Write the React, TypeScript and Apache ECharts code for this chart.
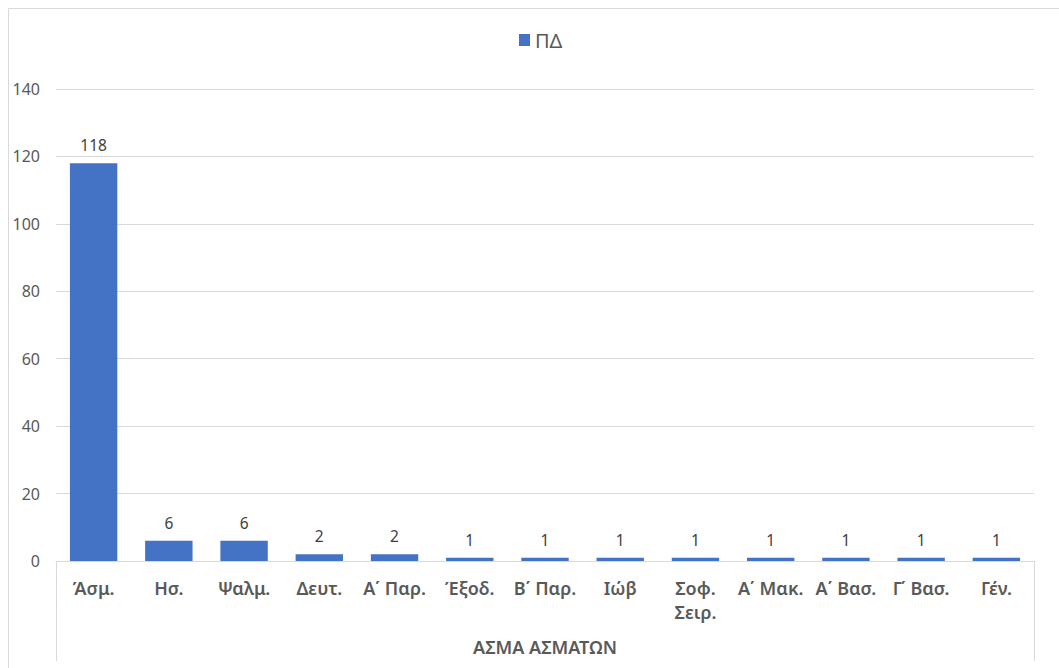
import React, { useEffect, useRef } from "react";
import * as echarts from "echarts";

const categories = ["Άσμ.", "Ησ.", "Ψαλμ.", "Δευτ.", "Α΄ Παρ.", "Έξοδ.", "Β΄ Παρ.", "Ιώβ", "Σοφ.\nΣειρ.", "Α΄ Μακ.", "Α΄ Βασ.", "Γ΄ Βασ.", "Γέν."];
const values = [118, 6, 6, 2, 2, 1, 1, 1, 1, 1, 1, 1, 1];
const groupLabel = ["ΑΣΜΑ ΑΣΜΑΤΩΝ"];
const seriesName = "ΠΔ";

const FONT = "'Noto Sans', 'DejaVu Sans', sans-serif";

export default function App() {
  const ref = useRef<HTMLDivElement>(null);
  useEffect(() => {
    if (!ref.current) return;
    const chart = echarts.init(ref.current, null, { renderer: "svg" });
    chart.setOption({
      animation: false,
      backgroundColor: "#ffffff",
      textStyle: { fontFamily: FONT },
      legend: {
        top: 25,
        left: 514,
        itemWidth: 11,
        itemHeight: 12,
        icon: "rect",
        itemGap: 6,
        textStyle: { fontSize: 20, color: "#595959", fontFamily: FONT },
        data: [seriesName],
      },
      graphic: [
        {
          type: "polyline",
          shape: { points: [[8.5, 668], [8.5, 8.5], [1059, 8.5]] },
          style: { stroke: "#D9D9D9", fill: "none", lineWidth: 1 },
          silent: true,
        },
      ],
      grid: { left: 56, right: 25, top: 89, bottom: 107 },
      xAxis: [
        {
          type: "category",
          data: categories,
          position: "bottom",
          axisLine: { show: true, lineStyle: { color: "#D9D9D9", width: 1 } },
          axisTick: { show: false },
          axisLabel: {
            interval: 0,
            margin: 15,
            fontSize: 18,
            fontWeight: 600,
            color: "#595959",
            fontFamily: FONT,
            lineHeight: 24,
            verticalAlign: "top",
          },
        },
        {
          type: "category",
          data: groupLabel,
          position: "bottom",
          axisLine: { show: false },
          axisTick: { show: true, length: 100, inside: false, lineStyle: { color: "#D9D9D9" } },
          axisLabel: {
            margin: 77,
            fontSize: 18,
            fontWeight: 600,
            color: "#595959",
            fontFamily: FONT,
          },
          splitLine: { show: false },
        },
      ],
      yAxis: {
        type: "value",
        min: 0,
        max: 140,
        interval: 20,
        axisLine: { show: false },
        axisTick: { show: false },
        axisLabel: { fontSize: 16, color: "#595959", margin: 16, fontFamily: FONT },
        splitLine: { lineStyle: { color: "#D9D9D9", width: 1 } },
      },
      series: [
        {
          name: seriesName,
          type: "bar",
          xAxisIndex: 0,
          data: values,
          barCategoryGap: "37%",
          itemStyle: { color: "#4472C4" },
          label: {
            show: true,
            position: "top",
            distance: 10,
            fontSize: 15.5,
            color: "#404040",
            fontFamily: FONT,
          },
        },
      ],
    });
    return () => chart.dispose();
  }, []);
  return <div ref={ref} style={{ position: "absolute", left: 0, top: 0, width: 1059, height: 668 }} />;
}
